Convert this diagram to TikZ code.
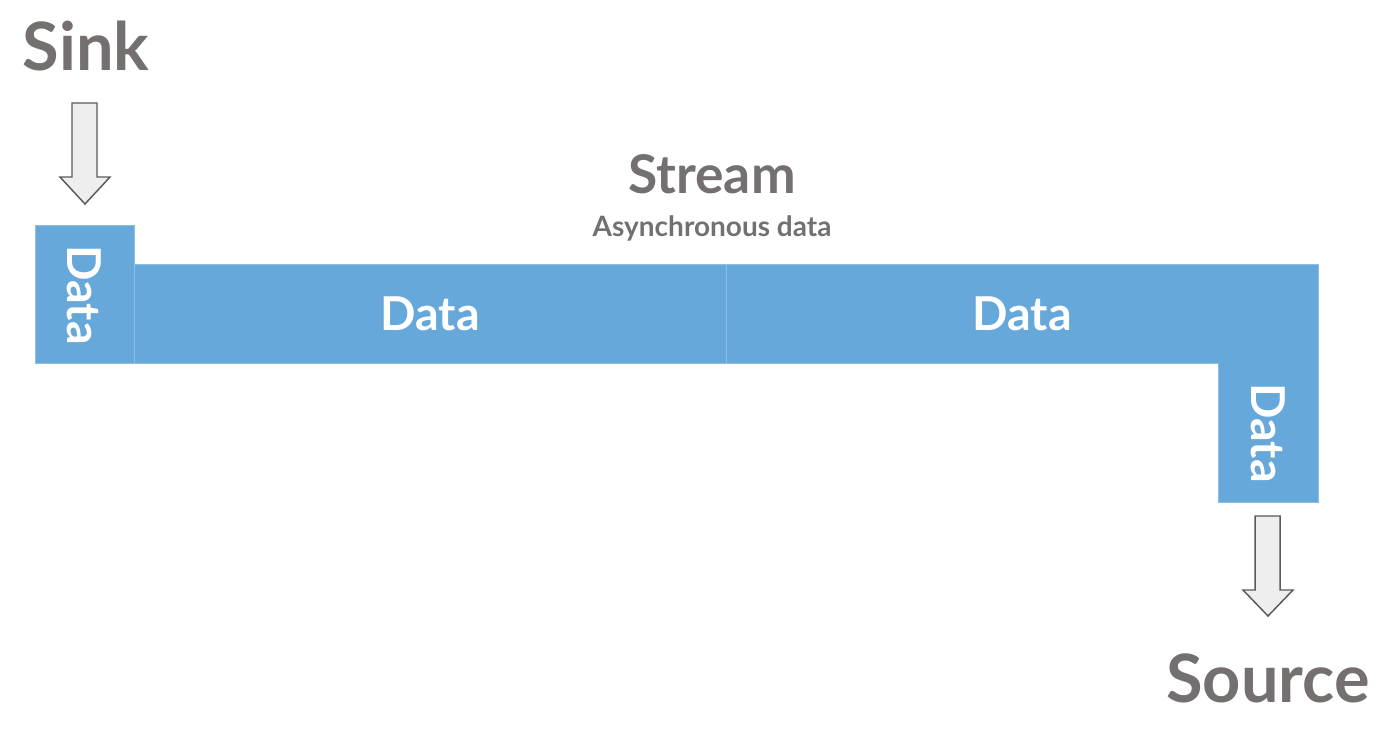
\documentclass[tikz,border=0pt]{standalone}
\usepackage{fontspec}
\setmainfont{Lato}
\definecolor{datablue}{HTML}{67A8DA}
\definecolor{dataedge}{HTML}{8DBFE5}
\definecolor{labelgray}{HTML}{757070}
\definecolor{arrowfill}{HTML}{EEEEEE}
\definecolor{arrowline}{HTML}{5A5A5A}
\tikzset{
  datablock/.style={fill=datablue,draw=dataedge,line width=0.6pt},
  datatext/.style={text=white,font=\fontsize{35}{35}\selectfont\bfseries},
  bigtitle/.style={text=labelgray,font=\fontsize{50}{50}\selectfont\bfseries,anchor=base},
  blockarrow/.style={fill=arrowfill,draw=arrowline,line width=1.1pt,line join=miter}
}
\begin{document}
\begin{tikzpicture}[x=0.75pt,y=-0.75pt]
\useasboundingbox (0,0) rectangle (1398,740);
% stream blocks
\draw[datablock] (35,225) rectangle (134,363);
\draw[datablock] (134,264) rectangle (726,363);
\draw[datablock] (726,264) -- (1318,264) -- (1318,502) -- (1218,502)
  -- (1218,363) -- (726,363) -- cycle;
\node[datatext,rotate=-90] (d1) at (84.5,295) {Data};
\node[datatext] (d2) at (430,314) {Data};
\node[datatext] (d3) at (1022,314) {Data};
\node[datatext,rotate=-90] (d4) at (1268,433) {Data};

% titles
\node[bigtitle] (sink) at (86,70) {Sink};
\node[bigtitle,font=\fontsize{40}{40}\selectfont\bfseries] (stream) at (712,193) {Stream};
\node[text=labelgray,font=\fontsize{21}{21}\selectfont\bfseries,anchor=base] (async) at (712,236) {Asynchronous data};
\node[bigtitle] (source) at (1268,702) {Source};

% arrows
\draw[blockarrow] (72,103) -- (97,103) -- (97,177) -- (110,177) -- (85,204)
  -- (60,177) -- (72,177) -- cycle;
\draw[blockarrow] (1255,516) -- (1280,516) -- (1280,590) -- (1293,590) -- (1268,616)
  -- (1243,590) -- (1255,590) -- cycle;
\end{tikzpicture}
\end{document}
